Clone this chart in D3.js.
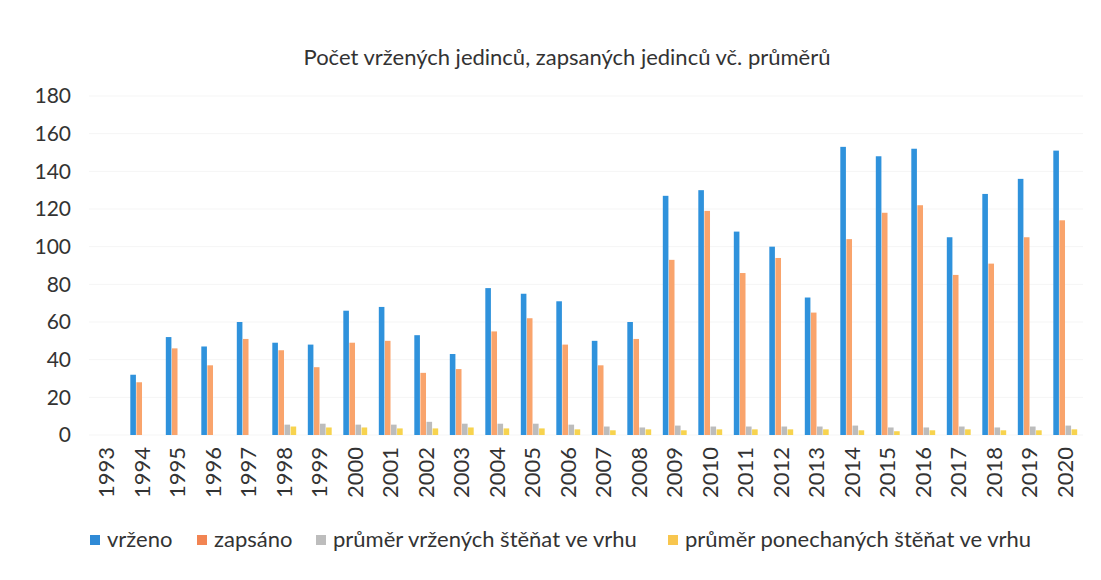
<!DOCTYPE html>
<html>
<head>
<meta charset="utf-8">
<script src="https://cdn.jsdelivr.net/npm/d3@7"></script>
<style>
  body { margin: 0; background: #fff; }
  text { font-family: Lato, "Open Sans", sans-serif; fill: #333; }
</style>
</head>
<body>
<div id="chart"></div>
<script>
// data
var years = ["1993","1994","1995","1996","1997","1998","1999","2000","2001","2002","2003","2004","2005","2006",
             "2007","2008","2009","2010","2011","2012","2013","2014","2015","2016","2017","2018","2019","2020"];
var vrzeno  = [0, 32, 52, 47, 60, 49, 48, 66, 68, 53, 43, 78, 75, 71, 50, 60, 127, 130, 108, 100, 73, 153, 148, 152, 105, 128, 136, 151];
var zapsano = [0, 28, 46, 37, 51, 45, 36, 49, 50, 33, 35, 55, 62, 48, 37, 51, 93, 119, 86, 94, 65, 104, 118, 122, 85, 91, 105, 114];
var prumerVrz = [0, 0, 0, 0, 0, 5.5, 6, 5.5, 5.5, 7, 6, 6, 6, 5.5, 4.5, 4, 5, 4.5, 4.5, 4.5, 4.5, 5, 4, 4, 4.5, 4, 4.5, 5];
var prumerPon = [0, 0, 0, 0, 0, 4.5, 4, 4, 3.5, 3.5, 4, 3.5, 3.5, 3, 2.5, 3, 2.5, 3, 3, 3, 3, 2.5, 2, 2.5, 3, 2.5, 2.5, 3];
var seriesNames = ["vrženo", "zapsáno", "průměr vržených štěňat ve vrhu", "průměr ponechaných štěňat ve vrhu"];
var yTicks = [0, 20, 40, 60, 80, 100, 120, 140, 160, 180];

var barColors = ["#2f92dc", "#f9a46c", "#bcbcbc", "#f7d34e"];
var legendColors = ["#2f8ad6", "#f28452", "#bdbdbd", "#f8c64e"];

var width = 1101, height = 580;
var svg = d3.select("#chart").append("svg")
    .attr("width", width)
    .attr("height", height);

var allSeries = [vrzeno, zapsano, prumerVrz, prumerPon];
var rows = years.map(function(yr, i) {
  return { year: yr, vals: allSeries.map(function(s) { return s[i]; }) };
});

// scales
var x = d3.scaleBand()
    .domain(years)
    .range([89, 1083])
    .paddingInner(0.3)
    .paddingOuter(0.15);

var x1 = d3.scaleBand()
    .domain(d3.range(4))
    .range([0, x.bandwidth()])
    .padding(0.08);

var y = d3.scaleLinear()
    .domain([0, 180])
    .range([435, 96]);

// faint gridlines
svg.append("g")
  .selectAll("line")
  .data(yTicks)
  .enter()
  .append("line")
    .attr("x1", 89).attr("x2", 1083)
    .attr("y1", d => y(d)).attr("y2", d => y(d))
    .attr("stroke", "#f5f5f5");

// title
svg.append("text")
    .attr("x", 567)
    .attr("y", 65)
    .attr("text-anchor", "middle")
    .style("font-size", "22px")
    .text("Počet vržených jedinců, zapsaných jedinců vč. průměrů");

// Y axis
var yAxis = svg.append("g")
    .attr("transform", "translate(71,0)")
    .call(d3.axisLeft(y).tickValues(yTicks).tickSize(0).tickPadding(0));
yAxis.select(".domain").remove();
yAxis.selectAll("text")
    .style("font-size", "21px")
    .style("font-family", "Lato, sans-serif")
    .attr("fill", "#333");

// X axis
var xAxis = svg.append("g")
    .attr("transform", "translate(0," + y(0) + ")")
    .call(d3.axisBottom(x).tickSize(0));
xAxis.select(".domain").remove();
xAxis.selectAll("text")
    .style("font-size", "22px")
    .style("font-family", "Lato, sans-serif")
    .attr("fill", "#333")
    .attr("text-anchor", "end")
    .attr("dy", "0.35em")
    .attr("transform", "translate(0,12) rotate(-90)")
    .attr("x", 0)
    .attr("y", 0);

// bars
var groups = svg.append("g")
  .selectAll("g")
  .data(rows)
  .enter()
  .append("g")
    .attr("transform", d => "translate(" + x(d.year) + ",0)");

groups.selectAll("rect")
  .data(d => d.vals.map(function(v, k) { return {k: k, v: v}; }))
  .enter()
  .append("rect")
    .attr("x", d => x1(d.k))
    .attr("width", x1.bandwidth())
    .attr("y", d => y(d.v))
    .attr("height", d => y(0) - y(d.v))
    .attr("fill", d => barColors[d.k]);

// legend
var legendX = [90, 197, 316, 668];
var legend = svg.append("g")
  .selectAll("g")
  .data(seriesNames)
  .enter()
  .append("g")
    .attr("transform", (d, i) => "translate(" + legendX[i] + ",535)");

legend.append("rect")
    .attr("width", 10)
    .attr("height", 10)
    .attr("y", 0)
    .attr("fill", (d, i) => legendColors[i]);

legend.append("text")
    .attr("x", 17)
    .attr("y", 12)
    .style("font-size", "22px")
    .text(d => d);
</script>
</body>
</html>
